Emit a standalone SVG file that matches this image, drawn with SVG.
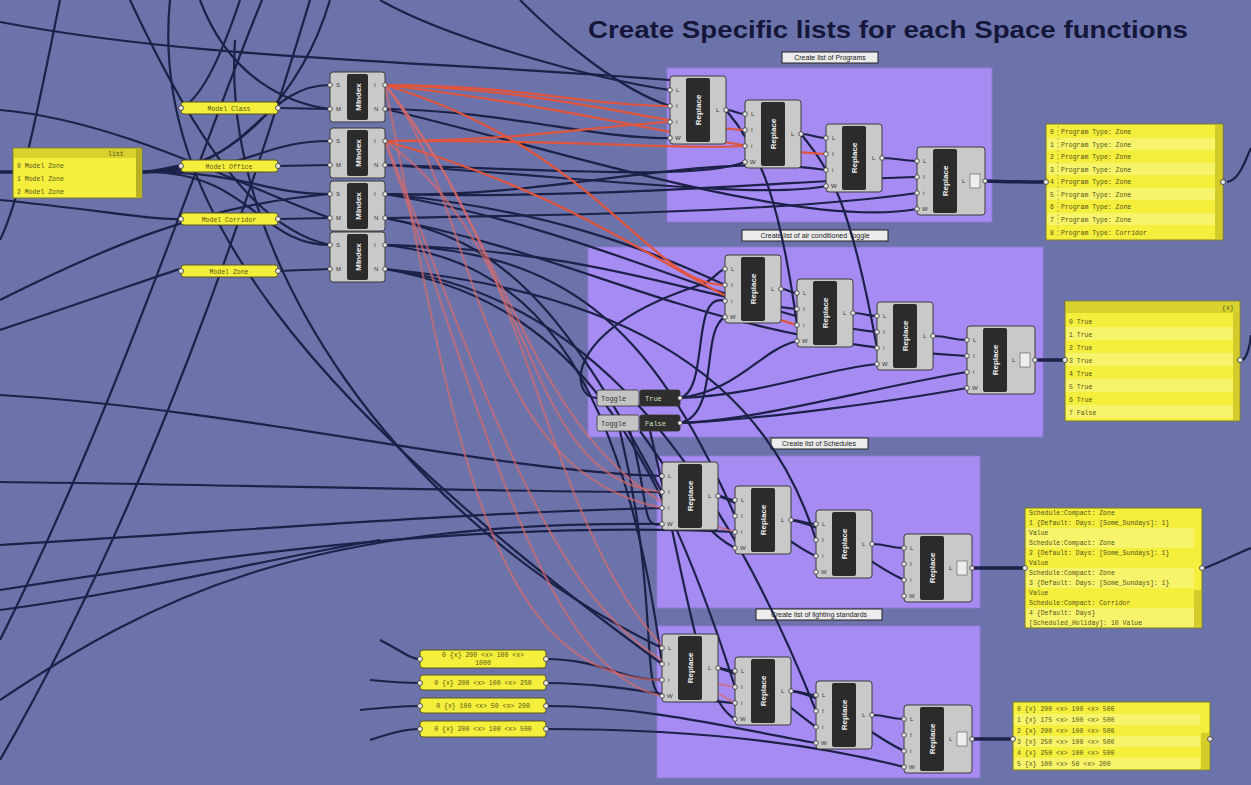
<svg xmlns="http://www.w3.org/2000/svg" width="1251" height="785" viewBox="0 0 1251 785">
<style>
.bg{fill:#6c73aa}
.grp{fill:#a68cf2;stroke:#8f78d8;stroke-width:1}
.glab{fill:#ececec;stroke:#222;stroke-width:1}
.gt{font-family:"Liberation Sans",sans-serif;font-size:7px;fill:#222}
.w{fill:none;stroke:#1c2148;stroke-width:2.2}
.wt{fill:none;stroke:#1c2148;stroke-width:3.5}
.r{fill:none;stroke:#e2553d;stroke-width:2.2}
.rf{fill:none;stroke:#d86a6a;stroke-width:2.2;opacity:.65}
.cb{fill:#c9c9c9;stroke:#3a3a3a;stroke-width:1}
.cd{fill:#2b2b2b}
.cl{font-family:"Liberation Sans",sans-serif;font-size:6px;fill:#333}
.cv{font-family:"Liberation Sans",sans-serif;font-size:8px;font-weight:bold;fill:#f0f0f0;text-anchor:middle}
.pt{fill:#e6e6e6;stroke:#333;stroke-width:.8}
.pn{fill:#f4ee3c;stroke:#7d7a2a;stroke-width:1}
.ps{fill:#f7f36a}
.ph{fill:#d8d12e}
.px{font-family:"Liberation Mono",monospace;font-size:6.5px;fill:#55551a}
.sp{fill:#f4ee3c;stroke:#5a5820;stroke-width:1}
.tg{fill:#c4c4c4;stroke:#333;stroke-width:.8}
.tv{fill:#2e2e2e;stroke:#333;stroke-width:.8}
.tt{font-family:"Liberation Mono",monospace;font-size:7px}
</style>
<rect class="bg" x="0" y="0" width="1251" height="785"/>

<text x="588" y="38" font-family="Liberation Sans, sans-serif" font-size="24" font-weight="bold" fill="#15163a" textLength="600" lengthAdjust="spacingAndGlyphs">Create Specific lists for each Space functions</text>

<!-- groups -->
<g id="group-programs">
<rect class="grp" x="667" y="68" width="325" height="154"/>
<rect class="glab" x="782" y="52" width="96" height="11"/>
<text class="gt" x="830" y="60" text-anchor="middle">Create list of Programs</text>
</g>
<g id="group-toggle">
<rect class="grp" x="588" y="247" width="455" height="190"/>
<rect class="glab" x="742" y="230" width="146" height="11"/>
<text class="gt" x="815" y="238" text-anchor="middle">Create list of air conditioned Toggle</text>
</g>
<g id="group-schedules">
<rect class="grp" x="657" y="456" width="323" height="152"/>
<rect class="glab" x="771" y="438" width="97" height="11"/>
<text class="gt" x="819" y="446" text-anchor="middle">Create list of Schedules</text>
</g>
<g id="group-lighting">
<rect class="grp" x="657" y="626" width="323" height="152"/>
<rect class="glab" x="756" y="609" width="126" height="11"/>
<text class="gt" x="819" y="617" text-anchor="middle">Create list of lighting standards</text>
</g>

<!-- connectors -->
<g id="connectors">
<!-- long background wires -->
<path class="w" d="M0,395 C250,410 480,470 662,476"/>
<path class="w" d="M0,482 C250,485 500,492 662,492"/>
<path class="w" d="M0,590 C220,555 480,520 735,532"/>
<path class="w" d="M0,545 C250,530 480,512 662,508"/>
<path class="w" d="M0,640 C120,400 200,150 262,0"/>
<path class="w" d="M0,760 C150,500 250,200 310,0"/>
<path class="w" d="M60,0 C40,100 20,200 0,240"/>
<path class="w" d="M130,0 C200,150 260,230 330,245"/>
<path class="w" d="M0,300 C100,250 200,205 330,194"/>
<path class="w" d="M0,110 C120,120 250,190 330,218"/>
<path class="w" d="M200,0 C230,80 290,104 330,109"/>
<path class="w" d="M380,0 C450,40 600,80 670,90"/>
<path class="w" d="M520,0 C560,40 620,90 670,106"/>
<path class="w" d="M0,22 C200,60 420,60 670,80"/>
<path class="w" d="M235,40 C220,260 400,520 662,648"/>
<path class="w" d="M170,0 C150,200 300,400 662,664"/>
<path class="w" d="M0,700 C150,600 300,520 662,524"/>
<path class="w" d="M0,330 C150,280 200,260 181,271"/>
<path class="w" d="M330,0 C300,100 230,160 181,166"/>
<path class="w" d="M0,200 C100,210 150,220 181,219"/>
<path class="w" d="M240,0 C220,60 200,100 181,108"/>
<path class="w" d="M1227,182 C1240,180 1245,160 1251,148"/>
<path class="w" d="M1243,360 C1248,355 1250,345 1251,335"/>
<path class="w" d="M1205,568 C1225,560 1240,552 1251,548"/>
<path class="w" d="M0,610 C150,590 260,560 380,540"/>
<!-- left panel -->
<path class="wt" d="M0,172 L13,172"/>
<path class="wt" d="M142,172 C160,172 165,168 181,166"/>
<path class="w" d="M146,172 C250,172 260,85 330,85"/>
<path class="w" d="M146,172 C250,172 260,141 330,141"/>
<path class="w" d="M146,172 C250,172 260,194 330,194"/>
<path class="w" d="M146,172 C250,172 260,245 330,245"/>
<path class="w" d="M278,108 L330,109"/>
<path class="w" d="M278,166 L330,165"/>
<path class="w" d="M278,219 L330,218"/>
<path class="w" d="M278,271 L330,269"/>
<!-- mindex dark outputs -->
<path class="w" d="M385,194 C600,200 800,180 917,177"/>
<path class="w" d="M385,194 C550,200 700,150 826,170"/>
<path class="w" d="M385,194 C550,210 650,250 725,285"/>
<path class="w" d="M385,194 C600,230 750,320 877,332"/>
<path class="w" d="M385,218 C500,240 560,300 662,492"/>
<path class="w" d="M385,218 C600,260 700,340 967,356"/>
<path class="w" d="M385,245 C560,250 650,320 735,516"/>
<path class="w" d="M385,245 C600,250 700,300 797,309"/>
<path class="w" d="M385,245 C520,260 620,350 662,664"/>
<path class="w" d="M385,269 C560,300 650,420 735,687"/>
<path class="w" d="M385,269 C600,290 760,360 816,540"/>
<path class="w" d="M385,269 C560,290 700,420 816,711"/>
<path class="w" d="M385,109 C500,110 600,140 670,138"/>
<path class="w" d="M385,165 C560,170 700,180 745,162"/>
<path class="w" d="M385,165 C560,175 760,200 826,186"/>
<path class="w" d="M385,109 C560,150 800,230 917,209"/>
<path class="w" d="M385,218 C600,215 800,210 917,193"/>
<!-- chain wires -->
<path class="w" d="M726,110 C736,110 735,114 745,114"/>
<path class="w" d="M801,134 C812,134 815,138 826,138"/>
<path class="w" d="M882,158 C900,158 900,161 917,161"/>
<path class="wt" d="M985,181 C1010,182 1025,182 1046,182"/>
<path class="w" d="M781,289 C790,289 788,293 797,293"/>
<path class="w" d="M853,313 C865,313 865,316 877,316"/>
<path class="w" d="M933,336 C950,336 950,340 967,340"/>
<path class="wt" d="M1035,360 C1045,360 1055,360 1065,360"/>
<path class="w" d="M718,496 C726,496 727,500 735,500"/>
<path class="w" d="M791,520 C804,520 803,524 816,524"/>
<path class="w" d="M872,544 C888,544 888,548 904,548"/>
<path class="wt" d="M972,568 C990,568 1005,568 1025,568"/>
<path class="w" d="M718,668 C726,668 727,671 735,671"/>
<path class="w" d="M791,691 C804,691 803,695 816,695"/>
<path class="w" d="M872,715 C888,715 888,719 904,719"/>
<path class="wt" d="M972,739 C990,739 1000,739 1013,739"/>
<path class="w" d="M726,110 C760,150 780,200 797,325"/>
<path class="w" d="M801,134 C830,170 850,200 877,348"/>
<path class="w" d="M718,496 C760,510 780,540 816,556"/>
<path class="w" d="M718,668 C760,680 780,700 816,727"/>
<path class="w" d="M791,520 C840,530 860,560 904,580"/>
<path class="w" d="M791,691 C840,700 860,730 904,751"/>
<!-- toggles -->
<path class="w" d="M680,398 C710,390 690,290 725,301"/>
<path class="w" d="M680,398 C740,390 760,350 797,341"/>
<path class="w" d="M680,398 C760,395 820,370 877,364"/>
<path class="w" d="M680,423 C760,420 860,390 967,372"/>
<path class="w" d="M680,423 C760,420 900,400 967,388"/>
<path class="w" d="M680,423 C720,415 700,330 725,317"/>
<path class="w" d="M597,398 C570,398 560,330 700,285 C715,280 718,270 725,269"/>
<!-- into G3/G4 from toggle area -->
<path class="w" d="M630,431 C650,500 640,530 662,524"/>
<path class="w" d="M620,431 C660,600 640,690 662,696"/>
<path class="w" d="M640,431 C690,500 700,530 735,548"/>
<path class="w" d="M650,431 C690,600 700,700 735,719"/>
<!-- bottom-left panels -->
<path class="w" d="M546,659 C600,659 620,680 662,680"/>
<path class="w" d="M546,683 C620,683 680,700 735,703"/>
<path class="w" d="M546,706 C650,706 740,730 816,743"/>
<path class="w" d="M546,729 C680,729 800,740 904,767"/>
<path class="w" d="M380,640 C400,650 410,659 420,659"/>
<path class="w" d="M370,680 C400,683 410,683 420,683"/>
<path class="w" d="M360,710 C400,706 410,706 420,706"/>
<path class="w" d="M370,740 C400,730 410,729 420,729"/>
<!-- red wires -->
<path class="r" d="M385,85 C520,85 580,105 670,106"/>
<path class="r" d="M385,85 C560,90 660,125 745,130"/>
<path class="r" d="M385,141 C540,140 600,125 670,122"/>
<path class="r" d="M385,141 C600,140 680,150 745,146"/>
<path class="r" d="M385,85 C600,110 720,150 826,154"/>
<path class="r" d="M385,85 C600,150 650,285 725,285"/>
<path class="r" d="M385,141 C600,200 700,300 797,325"/>
<path class="rf" d="M385,85 C480,200 470,470 662,508"/>
<path class="rf" d="M385,141 C540,250 520,480 662,492"/>
<path class="rf" d="M385,85 C520,250 530,480 735,532"/>
<path class="rf" d="M385,85 C450,400 480,680 662,680"/>
<path class="rf" d="M385,141 C480,400 540,670 662,696"/>
<path class="rf" d="M385,141 C500,420 560,660 735,687"/>
<path class="rf" d="M385,85 C560,300 540,600 735,703"/>
</g>

<!-- left panel -->
<g id="panel-zones">
<rect class="pn" x="13" y="148" width="129" height="50"/>
<rect class="ph" x="14" y="149" width="127" height="9"/>
<rect x="136" y="149" width="5" height="48" fill="#b8b020"/>
<text class="px" x="108" y="156">list</text>
<text class="px" x="17" y="168">0 Model Zone</text>
<text class="px" x="17" y="181">1 Model Zone</text>
<text class="px" x="17" y="194">2 Model Zone</text>
</g>

<!-- small panels -->
<g id="panel-class"><rect class="sp" x="181" y="102" width="97" height="12" rx="3"/><circle class="pt" cx="181" cy="108" r="2.5"/><circle class="pt" cx="278" cy="108" r="2.5"/><text class="px" x="229" y="110.5" text-anchor="middle">Model Class</text></g>
<g id="panel-office"><rect class="sp" x="181" y="160" width="97" height="12" rx="3"/><circle class="pt" cx="181" cy="166" r="2.5"/><circle class="pt" cx="278" cy="166" r="2.5"/><text class="px" x="229" y="168.5" text-anchor="middle">Model Office</text></g>
<g id="panel-corridor"><rect class="sp" x="181" y="213" width="97" height="12" rx="3"/><circle class="pt" cx="181" cy="219" r="2.5"/><circle class="pt" cx="278" cy="219" r="2.5"/><text class="px" x="229" y="221.5" text-anchor="middle">Model Corridor</text></g>
<g id="panel-zone"><rect class="sp" x="181" y="265" width="97" height="12" rx="3"/><circle class="pt" cx="181" cy="271" r="2.5"/><circle class="pt" cx="278" cy="271" r="2.5"/><text class="px" x="229" y="273.5" text-anchor="middle">Model Zone</text></g>

<!-- Mindex components -->
<g id="mindex1" transform="translate(330,72)">
<rect class="cb" width="55" height="50" rx="3"/><rect class="cd" x="17" y="2" width="21" height="46" rx="2"/>
<text class="cl" x="6" y="15">S</text><text class="cl" x="6" y="39">M</text><text class="cl" x="44" y="15">I</text><text class="cl" x="44" y="39">N</text>
<text class="cv" transform="translate(30.5,25) rotate(-90)">MIndex</text>
<circle class="pt" cx="0" cy="13" r="2.3"/><circle class="pt" cx="0" cy="37" r="2.3"/><circle class="pt" cx="55" cy="13" r="2.3"/><circle class="pt" cx="55" cy="37" r="2.3"/>
</g>
<g id="mindex2" transform="translate(330,128)">
<rect class="cb" width="55" height="50" rx="3"/><rect class="cd" x="17" y="2" width="21" height="46" rx="2"/>
<text class="cl" x="6" y="15">S</text><text class="cl" x="6" y="39">M</text><text class="cl" x="44" y="15">I</text><text class="cl" x="44" y="39">N</text>
<text class="cv" transform="translate(30.5,25) rotate(-90)">MIndex</text>
<circle class="pt" cx="0" cy="13" r="2.3"/><circle class="pt" cx="0" cy="37" r="2.3"/><circle class="pt" cx="55" cy="13" r="2.3"/><circle class="pt" cx="55" cy="37" r="2.3"/>
</g>
<g id="mindex3" transform="translate(330,181)">
<rect class="cb" width="55" height="50" rx="3"/><rect class="cd" x="17" y="2" width="21" height="46" rx="2"/>
<text class="cl" x="6" y="15">S</text><text class="cl" x="6" y="39">M</text><text class="cl" x="44" y="15">I</text><text class="cl" x="44" y="39">N</text>
<text class="cv" transform="translate(30.5,25) rotate(-90)">MIndex</text>
<circle class="pt" cx="0" cy="13" r="2.3"/><circle class="pt" cx="0" cy="37" r="2.3"/><circle class="pt" cx="55" cy="13" r="2.3"/><circle class="pt" cx="55" cy="37" r="2.3"/>
</g>
<g id="mindex4" transform="translate(330,232)">
<rect class="cb" width="55" height="50" rx="3"/><rect class="cd" x="17" y="2" width="21" height="46" rx="2"/>
<text class="cl" x="6" y="15">S</text><text class="cl" x="6" y="39">M</text><text class="cl" x="44" y="15">I</text><text class="cl" x="44" y="39">N</text>
<text class="cv" transform="translate(30.5,25) rotate(-90)">MIndex</text>
<circle class="pt" cx="0" cy="13" r="2.3"/><circle class="pt" cx="0" cy="37" r="2.3"/><circle class="pt" cx="55" cy="13" r="2.3"/><circle class="pt" cx="55" cy="37" r="2.3"/>
</g>

<!-- Replace components: group 1 -->
<g id="g1-replace1" transform="translate(670,76)">
<rect class="cb" width="56" height="68" rx="3"/><rect class="cd" x="16" y="2" width="24" height="64" rx="2"/>
<text class="cl" x="6" y="16">L</text><text class="cl" x="6" y="32">I</text><text class="cl" x="6" y="48">i</text><text class="cl" x="5" y="64">W</text><text class="cl" x="46" y="36">L</text>
<text class="cv" transform="translate(31,34) rotate(-90)">Replace</text>
<circle class="pt" cx="0" cy="14" r="2.3"/><circle class="pt" cx="0" cy="30" r="2.3"/><circle class="pt" cx="0" cy="46" r="2.3"/><circle class="pt" cx="0" cy="62" r="2.3"/><circle class="pt" cx="56" cy="34" r="2.3"/>
</g>
<g id="g1-replace2" transform="translate(745,100)">
<rect class="cb" width="56" height="68" rx="3"/><rect class="cd" x="16" y="2" width="24" height="64" rx="2"/>
<text class="cl" x="6" y="16">L</text><text class="cl" x="6" y="32">I</text><text class="cl" x="6" y="48">i</text><text class="cl" x="5" y="64">W</text><text class="cl" x="46" y="36">L</text>
<text class="cv" transform="translate(31,34) rotate(-90)">Replace</text>
<circle class="pt" cx="0" cy="14" r="2.3"/><circle class="pt" cx="0" cy="30" r="2.3"/><circle class="pt" cx="0" cy="46" r="2.3"/><circle class="pt" cx="0" cy="62" r="2.3"/><circle class="pt" cx="56" cy="34" r="2.3"/>
</g>
<g id="g1-replace3" transform="translate(826,124)">
<rect class="cb" width="56" height="68" rx="3"/><rect class="cd" x="16" y="2" width="24" height="64" rx="2"/>
<text class="cl" x="6" y="16">L</text><text class="cl" x="6" y="32">I</text><text class="cl" x="6" y="48">i</text><text class="cl" x="5" y="64">W</text><text class="cl" x="46" y="36">L</text>
<text class="cv" transform="translate(31,34) rotate(-90)">Replace</text>
<circle class="pt" cx="0" cy="14" r="2.3"/><circle class="pt" cx="0" cy="30" r="2.3"/><circle class="pt" cx="0" cy="46" r="2.3"/><circle class="pt" cx="0" cy="62" r="2.3"/><circle class="pt" cx="56" cy="34" r="2.3"/>
</g>
<g id="g1-replace4" transform="translate(917,147)">
<rect class="cb" width="68" height="68" rx="3"/><rect class="cd" x="16" y="2" width="24" height="64" rx="2"/>
<text class="cl" x="6" y="16">L</text><text class="cl" x="6" y="32">I</text><text class="cl" x="6" y="48">i</text><text class="cl" x="5" y="64">W</text><text class="cl" x="45" y="36">L</text>
<rect x="53" y="27" width="10" height="14" fill="#eee" stroke="#555" stroke-width=".6"/>
<text class="cv" transform="translate(31,34) rotate(-90)">Replace</text>
<circle class="pt" cx="0" cy="14" r="2.3"/><circle class="pt" cx="0" cy="30" r="2.3"/><circle class="pt" cx="0" cy="46" r="2.3"/><circle class="pt" cx="0" cy="62" r="2.3"/><circle class="pt" cx="68" cy="34" r="2.3"/>
</g>

<!-- group 2 -->
<g id="g2-replace1" transform="translate(725,255)">
<rect class="cb" width="56" height="68" rx="3"/><rect class="cd" x="16" y="2" width="24" height="64" rx="2"/>
<text class="cl" x="6" y="16">L</text><text class="cl" x="6" y="32">I</text><text class="cl" x="6" y="48">i</text><text class="cl" x="5" y="64">W</text><text class="cl" x="46" y="36">L</text>
<text class="cv" transform="translate(31,34) rotate(-90)">Replace</text>
<circle class="pt" cx="0" cy="14" r="2.3"/><circle class="pt" cx="0" cy="30" r="2.3"/><circle class="pt" cx="0" cy="46" r="2.3"/><circle class="pt" cx="0" cy="62" r="2.3"/><circle class="pt" cx="56" cy="34" r="2.3"/>
</g>
<g id="g2-replace2" transform="translate(797,279)">
<rect class="cb" width="56" height="68" rx="3"/><rect class="cd" x="16" y="2" width="24" height="64" rx="2"/>
<text class="cl" x="6" y="16">L</text><text class="cl" x="6" y="32">I</text><text class="cl" x="6" y="48">i</text><text class="cl" x="5" y="64">W</text><text class="cl" x="46" y="36">L</text>
<text class="cv" transform="translate(31,34) rotate(-90)">Replace</text>
<circle class="pt" cx="0" cy="14" r="2.3"/><circle class="pt" cx="0" cy="30" r="2.3"/><circle class="pt" cx="0" cy="46" r="2.3"/><circle class="pt" cx="0" cy="62" r="2.3"/><circle class="pt" cx="56" cy="34" r="2.3"/>
</g>
<g id="g2-replace3" transform="translate(877,302)">
<rect class="cb" width="56" height="68" rx="3"/><rect class="cd" x="16" y="2" width="24" height="64" rx="2"/>
<text class="cl" x="6" y="16">L</text><text class="cl" x="6" y="32">I</text><text class="cl" x="6" y="48">i</text><text class="cl" x="5" y="64">W</text><text class="cl" x="46" y="36">L</text>
<text class="cv" transform="translate(31,34) rotate(-90)">Replace</text>
<circle class="pt" cx="0" cy="14" r="2.3"/><circle class="pt" cx="0" cy="30" r="2.3"/><circle class="pt" cx="0" cy="46" r="2.3"/><circle class="pt" cx="0" cy="62" r="2.3"/><circle class="pt" cx="56" cy="34" r="2.3"/>
</g>
<g id="g2-replace4" transform="translate(967,326)">
<rect class="cb" width="68" height="68" rx="3"/><rect class="cd" x="16" y="2" width="24" height="64" rx="2"/>
<text class="cl" x="6" y="16">L</text><text class="cl" x="6" y="32">I</text><text class="cl" x="6" y="48">i</text><text class="cl" x="5" y="64">W</text><text class="cl" x="45" y="36">L</text>
<rect x="53" y="27" width="10" height="14" fill="#eee" stroke="#555" stroke-width=".6"/>
<text class="cv" transform="translate(31,34) rotate(-90)">Replace</text>
<circle class="pt" cx="0" cy="14" r="2.3"/><circle class="pt" cx="0" cy="30" r="2.3"/><circle class="pt" cx="0" cy="46" r="2.3"/><circle class="pt" cx="0" cy="62" r="2.3"/><circle class="pt" cx="68" cy="34" r="2.3"/>
</g>

<!-- group 3 -->
<g id="g3-replace1" transform="translate(662,462)">
<rect class="cb" width="56" height="68" rx="3"/><rect class="cd" x="16" y="2" width="24" height="64" rx="2"/>
<text class="cl" x="6" y="16">L</text><text class="cl" x="6" y="32">I</text><text class="cl" x="6" y="48">i</text><text class="cl" x="5" y="64">W</text><text class="cl" x="46" y="36">L</text>
<text class="cv" transform="translate(31,34) rotate(-90)">Replace</text>
<circle class="pt" cx="0" cy="14" r="2.3"/><circle class="pt" cx="0" cy="30" r="2.3"/><circle class="pt" cx="0" cy="46" r="2.3"/><circle class="pt" cx="0" cy="62" r="2.3"/><circle class="pt" cx="56" cy="34" r="2.3"/>
</g>
<g id="g3-replace2" transform="translate(735,486)">
<rect class="cb" width="56" height="68" rx="3"/><rect class="cd" x="16" y="2" width="24" height="64" rx="2"/>
<text class="cl" x="6" y="16">L</text><text class="cl" x="6" y="32">I</text><text class="cl" x="6" y="48">i</text><text class="cl" x="5" y="64">W</text><text class="cl" x="46" y="36">L</text>
<text class="cv" transform="translate(31,34) rotate(-90)">Replace</text>
<circle class="pt" cx="0" cy="14" r="2.3"/><circle class="pt" cx="0" cy="30" r="2.3"/><circle class="pt" cx="0" cy="46" r="2.3"/><circle class="pt" cx="0" cy="62" r="2.3"/><circle class="pt" cx="56" cy="34" r="2.3"/>
</g>
<g id="g3-replace3" transform="translate(816,510)">
<rect class="cb" width="56" height="68" rx="3"/><rect class="cd" x="16" y="2" width="24" height="64" rx="2"/>
<text class="cl" x="6" y="16">L</text><text class="cl" x="6" y="32">I</text><text class="cl" x="6" y="48">i</text><text class="cl" x="5" y="64">W</text><text class="cl" x="46" y="36">L</text>
<text class="cv" transform="translate(31,34) rotate(-90)">Replace</text>
<circle class="pt" cx="0" cy="14" r="2.3"/><circle class="pt" cx="0" cy="30" r="2.3"/><circle class="pt" cx="0" cy="46" r="2.3"/><circle class="pt" cx="0" cy="62" r="2.3"/><circle class="pt" cx="56" cy="34" r="2.3"/>
</g>
<g id="g3-replace4" transform="translate(904,534)">
<rect class="cb" width="68" height="68" rx="3"/><rect class="cd" x="16" y="2" width="24" height="64" rx="2"/>
<text class="cl" x="6" y="16">L</text><text class="cl" x="6" y="32">I</text><text class="cl" x="6" y="48">i</text><text class="cl" x="5" y="64">W</text><text class="cl" x="45" y="36">L</text>
<rect x="53" y="27" width="10" height="14" fill="#eee" stroke="#555" stroke-width=".6"/>
<text class="cv" transform="translate(31,34) rotate(-90)">Replace</text>
<circle class="pt" cx="0" cy="14" r="2.3"/><circle class="pt" cx="0" cy="30" r="2.3"/><circle class="pt" cx="0" cy="46" r="2.3"/><circle class="pt" cx="0" cy="62" r="2.3"/><circle class="pt" cx="68" cy="34" r="2.3"/>
</g>

<!-- group 4 -->
<g id="g4-replace1" transform="translate(662,634)">
<rect class="cb" width="56" height="68" rx="3"/><rect class="cd" x="16" y="2" width="24" height="64" rx="2"/>
<text class="cl" x="6" y="16">L</text><text class="cl" x="6" y="32">I</text><text class="cl" x="6" y="48">i</text><text class="cl" x="5" y="64">W</text><text class="cl" x="46" y="36">L</text>
<text class="cv" transform="translate(31,34) rotate(-90)">Replace</text>
<circle class="pt" cx="0" cy="14" r="2.3"/><circle class="pt" cx="0" cy="30" r="2.3"/><circle class="pt" cx="0" cy="46" r="2.3"/><circle class="pt" cx="0" cy="62" r="2.3"/><circle class="pt" cx="56" cy="34" r="2.3"/>
</g>
<g id="g4-replace2" transform="translate(735,657)">
<rect class="cb" width="56" height="68" rx="3"/><rect class="cd" x="16" y="2" width="24" height="64" rx="2"/>
<text class="cl" x="6" y="16">L</text><text class="cl" x="6" y="32">I</text><text class="cl" x="6" y="48">i</text><text class="cl" x="5" y="64">W</text><text class="cl" x="46" y="36">L</text>
<text class="cv" transform="translate(31,34) rotate(-90)">Replace</text>
<circle class="pt" cx="0" cy="14" r="2.3"/><circle class="pt" cx="0" cy="30" r="2.3"/><circle class="pt" cx="0" cy="46" r="2.3"/><circle class="pt" cx="0" cy="62" r="2.3"/><circle class="pt" cx="56" cy="34" r="2.3"/>
</g>
<g id="g4-replace3" transform="translate(816,681)">
<rect class="cb" width="56" height="68" rx="3"/><rect class="cd" x="16" y="2" width="24" height="64" rx="2"/>
<text class="cl" x="6" y="16">L</text><text class="cl" x="6" y="32">I</text><text class="cl" x="6" y="48">i</text><text class="cl" x="5" y="64">W</text><text class="cl" x="46" y="36">L</text>
<text class="cv" transform="translate(31,34) rotate(-90)">Replace</text>
<circle class="pt" cx="0" cy="14" r="2.3"/><circle class="pt" cx="0" cy="30" r="2.3"/><circle class="pt" cx="0" cy="46" r="2.3"/><circle class="pt" cx="0" cy="62" r="2.3"/><circle class="pt" cx="56" cy="34" r="2.3"/>
</g>
<g id="g4-replace4" transform="translate(904,705)">
<rect class="cb" width="68" height="68" rx="3"/><rect class="cd" x="16" y="2" width="24" height="64" rx="2"/>
<text class="cl" x="6" y="16">L</text><text class="cl" x="6" y="32">I</text><text class="cl" x="6" y="48">i</text><text class="cl" x="5" y="64">W</text><text class="cl" x="45" y="36">L</text>
<rect x="53" y="27" width="10" height="14" fill="#eee" stroke="#555" stroke-width=".6"/>
<text class="cv" transform="translate(31,34) rotate(-90)">Replace</text>
<circle class="pt" cx="0" cy="14" r="2.3"/><circle class="pt" cx="0" cy="30" r="2.3"/><circle class="pt" cx="0" cy="46" r="2.3"/><circle class="pt" cx="0" cy="62" r="2.3"/><circle class="pt" cx="68" cy="34" r="2.3"/>
</g>

<!-- toggles -->
<g id="toggle-true">
<rect class="tg" x="597" y="390" width="42" height="16" rx="2"/><rect class="tv" x="640" y="390" width="40" height="16" rx="2"/>
<text class="tt" x="601" y="401" fill="#333">Toggle</text><text class="tt" x="645" y="401" fill="#cfe0c0">True</text>
<circle class="pt" cx="680" cy="398" r="2.3"/>
</g>
<g id="toggle-false">
<rect class="tg" x="597" y="415" width="42" height="16" rx="2"/><rect class="tv" x="640" y="415" width="40" height="16" rx="2"/>
<text class="tt" x="601" y="426" fill="#333">Toggle</text><text class="tt" x="645" y="426" fill="#cfe0c0">False</text>
<circle class="pt" cx="680" cy="423" r="2.3"/>
</g>

<!-- bottom-left panels -->
<g id="panel-light1"><rect class="sp" x="420" y="650" width="126" height="18" rx="3"/><circle class="pt" cx="420" cy="659" r="2.5"/><circle class="pt" cx="546" cy="659" r="2.5"/><text class="px" x="483" y="657" text-anchor="middle">0 {x} 200 &lt;x&gt; 100 &lt;x&gt;</text><text class="px" x="483" y="665" text-anchor="middle">1000</text></g>
<g id="panel-light2"><rect class="sp" x="420" y="675" width="126" height="15" rx="3"/><circle class="pt" cx="420" cy="683" r="2.5"/><circle class="pt" cx="546" cy="683" r="2.5"/><text class="px" x="483" y="685" text-anchor="middle">0 {x} 200 &lt;x&gt; 100 &lt;x&gt; 250</text></g>
<g id="panel-light3"><rect class="sp" x="420" y="698" width="126" height="15" rx="3"/><circle class="pt" cx="420" cy="706" r="2.5"/><circle class="pt" cx="546" cy="706" r="2.5"/><text class="px" x="483" y="708" text-anchor="middle">0 {x} 100 &lt;x&gt; 50 &lt;x&gt; 200</text></g>
<g id="panel-light4"><rect class="sp" x="420" y="721" width="126" height="16" rx="3"/><circle class="pt" cx="420" cy="729" r="2.5"/><circle class="pt" cx="546" cy="729" r="2.5"/><text class="px" x="483" y="731" text-anchor="middle">0 {x} 200 &lt;x&gt; 100 &lt;x&gt; 500</text></g>

<!-- right output panels -->
<g id="panel-programs">
<rect class="pn" x="1046" y="124" width="177" height="116"/>
<rect class="ps" x="1047" y="138" width="168" height="12"/><rect class="ps" x="1047" y="163" width="168" height="12"/><rect class="ps" x="1047" y="188" width="168" height="12"/><rect class="ps" x="1047" y="213" width="168" height="12"/>
<rect x="1215" y="125" width="7" height="114" fill="#d4cc2a"/>
<line x1="1058" y1="126" x2="1058" y2="238" stroke="#9a9630" stroke-width=".6" stroke-dasharray="2,2"/>
<circle class="pt" cx="1046" cy="182" r="2.5"/><circle class="pt" cx="1223" cy="182" r="2.5"/>
<text class="px" x="1050" y="134">0</text><text class="px" x="1061" y="134">Program Type: Zone</text>
<text class="px" x="1050" y="147">1</text><text class="px" x="1061" y="147">Program Type: Zone</text>
<text class="px" x="1050" y="159">2</text><text class="px" x="1061" y="159">Program Type: Zone</text>
<text class="px" x="1050" y="172">3</text><text class="px" x="1061" y="172">Program Type: Zone</text>
<text class="px" x="1050" y="184">4</text><text class="px" x="1061" y="184">Program Type: Zone</text>
<text class="px" x="1050" y="197">5</text><text class="px" x="1061" y="197">Program Type: Zone</text>
<text class="px" x="1050" y="209">6</text><text class="px" x="1061" y="209">Program Type: Zone</text>
<text class="px" x="1050" y="222">7</text><text class="px" x="1061" y="222">Program Type: Zone</text>
<text class="px" x="1050" y="235">8</text><text class="px" x="1061" y="235">Program Type: Corridor</text>
</g>

<g id="panel-toggle">
<rect class="pn" x="1065" y="301" width="175" height="120"/>
<rect class="ph" x="1066" y="302" width="173" height="11"/>
<rect class="ps" x="1066" y="327" width="167" height="13"/><rect class="ps" x="1066" y="353" width="167" height="13"/><rect class="ps" x="1066" y="379" width="167" height="13"/><rect class="ps" x="1066" y="405" width="167" height="13"/>
<rect x="1233" y="313" width="6" height="107" fill="#d4cc2a"/>
<circle class="pt" cx="1065" cy="360" r="2.5"/><circle class="pt" cx="1240" cy="360" r="2.5"/>
<text class="px" x="1222" y="310">(x)</text>
<text class="px" x="1069" y="324">0 True</text>
<text class="px" x="1069" y="337">1 True</text>
<text class="px" x="1069" y="350">2 True</text>
<text class="px" x="1069" y="363">3 True</text>
<text class="px" x="1069" y="376">4 True</text>
<text class="px" x="1069" y="389">5 True</text>
<text class="px" x="1069" y="402">6 True</text>
<text class="px" x="1069" y="415">7 False</text>
</g>

<g id="panel-schedules">
<rect class="pn" x="1025" y="508" width="177" height="120"/>
<rect class="ps" x="1026" y="528" width="168" height="20"/><rect class="ps" x="1026" y="568" width="168" height="20"/><rect class="ps" x="1026" y="608" width="168" height="19"/>
<rect x="1194" y="590" width="7" height="37" fill="#d4cc2a"/>
<circle class="pt" cx="1025" cy="568" r="2.5"/><circle class="pt" cx="1202" cy="568" r="2.5"/>
<text class="px" x="1029" y="515">  Schedule:Compact: Zone</text>
<text class="px" x="1029" y="525">1 {Default: Days: [Some_Sundays]: 1}</text>
<text class="px" x="1029" y="535">  Value</text>
<text class="px" x="1029" y="545">  Schedule:Compact: Zone</text>
<text class="px" x="1029" y="555">2 {Default: Days: [Some_Sundays]: 1}</text>
<text class="px" x="1029" y="565">  Value</text>
<text class="px" x="1029" y="575">  Schedule:Compact: Zone</text>
<text class="px" x="1029" y="585">3 {Default: Days: [Some_Sundays]: 1}</text>
<text class="px" x="1029" y="595">  Value</text>
<text class="px" x="1029" y="605">  Schedule:Compact: Corridor</text>
<text class="px" x="1029" y="615">4 {Default: Days}</text>
<text class="px" x="1029" y="625">  [Scheduled_Holiday]: 10 Value</text>
</g>

<g id="panel-lighting">
<rect class="pn" x="1013" y="702" width="197" height="68"/>
<rect class="ps" x="1014" y="714" width="186" height="11"/><rect class="ps" x="1014" y="736" width="186" height="11"/><rect class="ps" x="1014" y="758" width="186" height="11"/>
<rect x="1201" y="733" width="8" height="36" fill="#d4cc2a"/>
<circle class="pt" cx="1013" cy="739" r="2.5"/><circle class="pt" cx="1210" cy="739" r="2.5"/>
<text class="px" x="1017" y="711">0 {x} 200 &lt;x&gt; 100 &lt;x&gt; 500</text>
<text class="px" x="1017" y="722">1 {x} 175 &lt;x&gt; 100 &lt;x&gt; 500</text>
<text class="px" x="1017" y="733">2 {x} 200 &lt;x&gt; 100 &lt;x&gt; 500</text>
<text class="px" x="1017" y="744">3 {x} 250 &lt;x&gt; 100 &lt;x&gt; 500</text>
<text class="px" x="1017" y="755">4 {x} 250 &lt;x&gt; 100 &lt;x&gt; 500</text>
<text class="px" x="1017" y="766">5 {x} 100 &lt;x&gt; 50 &lt;x&gt; 200</text>
</g>
</svg>
